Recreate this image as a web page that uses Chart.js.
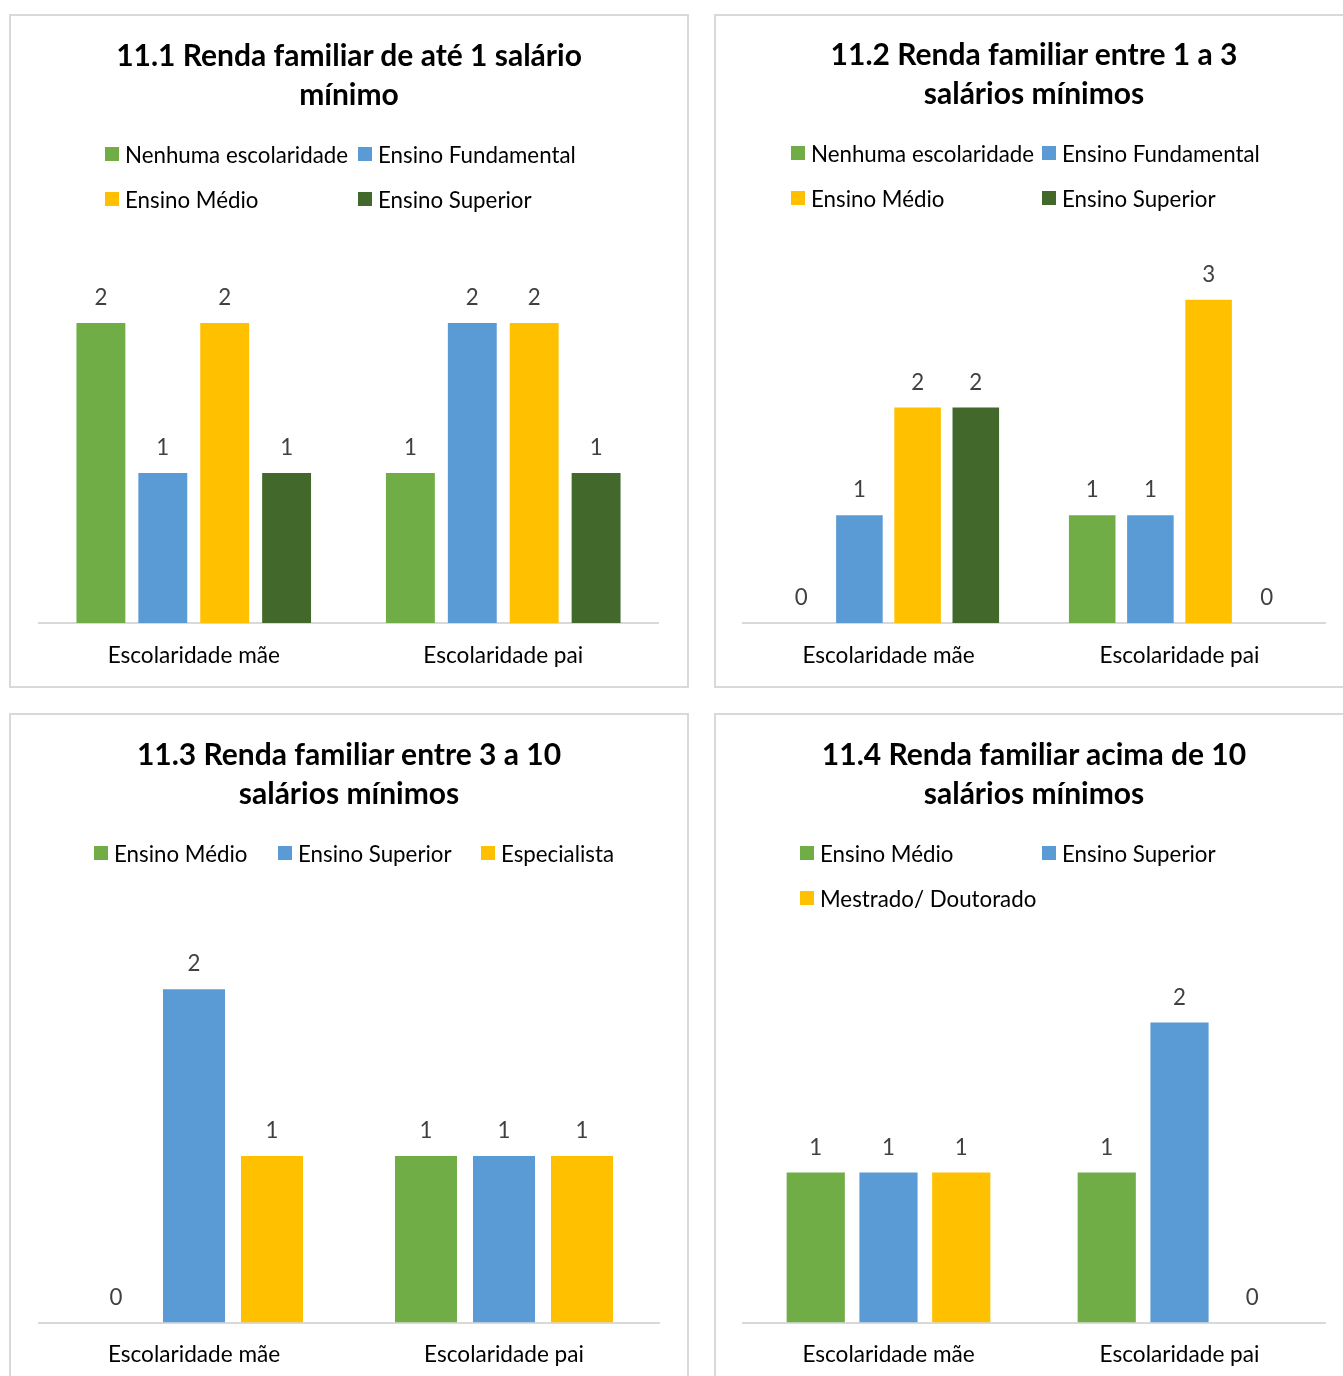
<!DOCTYPE html>
<html>
<head>
<meta charset="utf-8">
<script src="https://cdn.jsdelivr.net/npm/chart.js@4.4.1/dist/chart.umd.min.js"></script>
<style>
html, body { margin: 0; padding: 0; background: #fff; overflow: hidden; width: 1343px; height: 1376px; }
body { position: relative; font-family: Lato, "Open Sans", sans-serif; }
.panel { position: absolute; box-sizing: border-box; border: 2px solid #d9d9d9; background: #fff; }
.panel canvas { position: absolute; left: 0; top: 0; }
.title { position: absolute; left: 0; right: 0; text-align: center; font-weight: 700; font-size: 30px; line-height: 39px; color: #000; }
.legend { position: absolute; display: grid; font-size: 22.3px; color: #000; }
.legend .item { display: flex; align-items: center; height: 45px; white-space: nowrap; }
.legend .box { width: 14px; height: 14px; margin-right: 6px; flex: none; }
</style>
</head>
<body>
<script>
const categories = ['Escolaridade mãe', 'Escolaridade pai'];

const colors4 = ['#70AD47', '#5B9BD5', '#FFC000', '#43682B'];
const colors3 = ['#70AD47', '#5B9BD5', '#FFC000'];

// 11.1 - até 1 salário
const title1 = ['11.1 Renda familiar de até 1 salário', 'mínimo'];
const series1 = ['Nenhuma escolaridade', 'Ensino Fundamental', 'Ensino Médio', 'Ensino Superior'];
const values1 = [[2, 1], [1, 2], [2, 2], [1, 1]];

// 11.2 - entre 1 e 3 salários
const title2 = ['11.2 Renda familiar entre 1 a 3', 'salários mínimos'];
const series2 = ['Nenhuma escolaridade', 'Ensino Fundamental', 'Ensino Médio', 'Ensino Superior'];
const values2 = [[0, 1], [1, 1], [2, 3], [2, 0]];

// 11.3 - entre 3 e 10 salários
const title3 = ['11.3 Renda familiar entre 3 a 10', 'salários mínimos'];
const series3 = ['Ensino Médio', 'Ensino Superior', 'Especialista'];
const values3 = [[0, 1], [2, 1], [1, 1]];

// 11.4 - acima de 10 salários
const title4 = ['11.4 Renda familiar acima de 10', 'salários mínimos'];
const series4 = ['Ensino Médio', 'Ensino Superior', 'Mestrado/ Doutorado'];
const values4 = [[1, 1], [1, 2], [1, 0]];

// page layout of each box (page pixels)
const panels = [
  { left: 9, top: 14, width: 680, height: 674, title: title1, series: series1, values: values1, colors: colors4,
    yMax: 2.5, plot: { left: 39, right: 658, top: 248, bottom: 623 }, catPct: 0.8, barPct: 0.79,
    titleY: 54, legendX: 105, legendY: 154, legendCols: '253px auto' },
  { left: 714, top: 14, width: 640, height: 674, title: title2, series: series2, values: values2, colors: colors4,
    yMax: 3.5, plot: { left: 743, right: 1325, top: 246, bottom: 623 }, catPct: 0.8, barPct: 0.8,
    titleY: 53, legendX: 791, legendY: 153, legendCols: '251px auto' },
  { left: 9, top: 713, width: 680, height: 674, title: title3, series: series3, values: values3, colors: colors3,
    yMax: 2.5, plot: { left: 39, right: 659, top: 906, bottom: 1322.5 }, catPct: 0.755, barPct: 0.795,
    titleY: 753, legendX: 94, legendY: 853, legendCols: '184px 203px auto' },
  { left: 714, top: 713, width: 640, height: 674, title: title4, series: series4, values: values4, colors: colors3,
    yMax: 2.5, plot: { left: 743, right: 1325, top: 947.5, bottom: 1322.5 }, catPct: 0.75, barPct: 0.8,
    titleY: 753, legendX: 800, legendY: 853, legendCols: '242px auto' }
];

// numbers above each bar
const valueLabels = {
  id: 'valueLabels',
  afterDatasetsDraw(chart) {
    const ctx = chart.ctx;
    ctx.save();
    ctx.font = '22.3px Lato';
    ctx.fillStyle = '#404040';
    ctx.textAlign = 'center';
    ctx.textBaseline = 'middle';
    chart.data.datasets.forEach((ds, i) => {
      chart.getDatasetMeta(i).data.forEach((bar, j) => {
        ctx.fillText(ds.data[j], bar.x, bar.y - 25);
      });
    });
    ctx.restore();
  }
};

function buildPanel(p) {
  const div = document.createElement('div');
  div.className = 'panel';
  div.style.left = p.left + 'px';
  div.style.top = p.top + 'px';
  div.style.width = p.width + 'px';
  div.style.height = p.height + 'px';
  document.body.appendChild(div);

  const ox = p.left + 2, oy = p.top + 2;
  const w = p.width - 4, h = p.height - 4;

  const canvas = document.createElement('canvas');
  canvas.width = w;
  canvas.height = h;
  canvas.style.width = w + 'px';
  canvas.style.height = h + 'px';
  div.appendChild(canvas);

  const title = document.createElement('div');
  title.className = 'title';
  title.style.top = (p.titleY - oy - 19.5) + 'px';
  title.innerHTML = p.title.join('<br>');
  div.appendChild(title);

  const datasets = p.series.map((name, i) => ({
    label: name,
    data: p.values[i],
    backgroundColor: p.colors[i],
    categoryPercentage: p.catPct,
    barPercentage: p.barPct
  }));

  const axisHeight = (oy + h) - p.plot.bottom;

  const chart = new Chart(canvas, {
    type: 'bar',
    data: { labels: categories, datasets },
    options: {
      responsive: false,
      animation: false,
      layout: {
        padding: { left: p.plot.left - ox, right: ox + w - p.plot.right, top: p.plot.top - oy, bottom: 0 }
      },
      plugins: { legend: { display: false }, title: { display: false }, tooltip: { enabled: false } },
      scales: {
        y: { display: false, min: 0, max: p.yMax },
        x: {
          grid: { display: false, drawTicks: false },
          border: { display: true, color: '#d9d9d9', width: 2 },
          ticks: { color: '#000', padding: 19, font: { family: 'Lato', size: 22.6 } },
          afterFit: (scale) => { scale.height = axisHeight; }
        }
      }
    },
    plugins: [valueLabels]
  });

  // legend built from the chart's own datasets
  const legend = document.createElement('div');
  legend.className = 'legend';
  legend.style.left = (p.legendX - ox) + 'px';
  legend.style.top = (p.legendY - oy - 22.5) + 'px';
  legend.style.gridTemplateColumns = p.legendCols;
  chart.data.datasets.forEach(ds => {
    const item = document.createElement('div');
    item.className = 'item';
    item.innerHTML = `<span class="box" style="background:${ds.backgroundColor}"></span><span>${ds.label}</span>`;
    legend.appendChild(item);
  });
  div.appendChild(legend);
}

Promise.all([
  document.fonts.load('22px Lato'),
  document.fonts.load('bold 30px Lato')
]).catch(() => {}).then(() => panels.forEach(buildPanel));
</script>
</body>
</html>
